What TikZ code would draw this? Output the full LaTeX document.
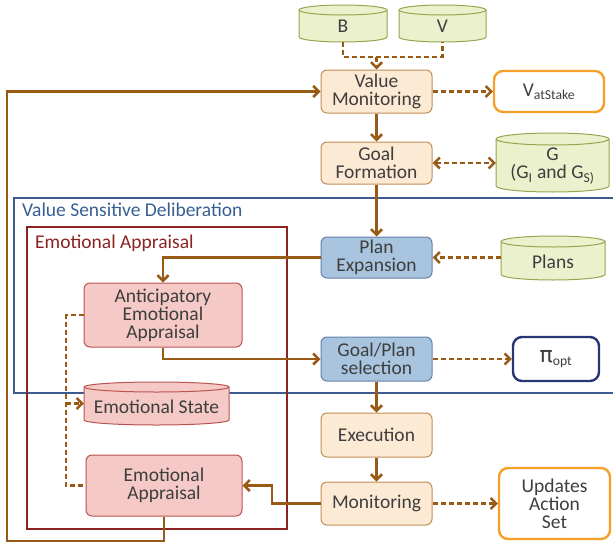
\documentclass[tikz,border=0pt]{standalone}
\usepackage{fontspec}
\setmainfont{Carlito}
\newfontfamily\pifont{DejaVu Sans}
\usetikzlibrary{arrows.meta,calc}
\definecolor{arr}{RGB}{152,90,20}
\definecolor{txt}{RGB}{62,62,62}
\definecolor{ofill}{RGB}{253,234,212}
\definecolor{obord}{RGB}{192,142,86}
\definecolor{bfill}{RGB}{168,196,222}
\definecolor{bbord}{RGB}{100,130,170}
\definecolor{pfill}{RGB}{245,201,198}
\definecolor{pbord}{RGB}{185,85,80}
\definecolor{gfill}{RGB}{235,241,205}
\definecolor{gbord}{RGB}{150,165,80}
\definecolor{hord}{RGB}{247,160,40}
\definecolor{pibord}{RGB}{40,55,115}
\definecolor{eaframe}{RGB}{140,35,35}
\definecolor{vsdframe}{RGB}{60,90,140}
\definecolor{vsdtext}{RGB}{55,95,145}
\newcommand\boxfont{\fontsize{19.5}{18}\selectfont}
\newcommand\drum[8]{%
  \pgfmathsetmacro\drumrx{(#4-#2)/2}%
  \pgfmathsetmacro\drumta{#3+#6}%
  \pgfmathsetmacro\drumbb{#5-#6}%
  \pgfmathsetmacro\drumcx{(#2+#4)/2}%
  \pgfmathsetmacro\drumcy{(#3+#5)/2}%
  \pgfmathsetmacro\drumw{#4-#2}%
  \pgfmathsetmacro\drumh{#5-#3}%
  \path[#7] (#2,\drumta) -- (#2,\drumbb)
    arc[start angle=180,end angle=360,x radius=\drumrx pt,y radius=#6 pt]
    -- (#4,\drumta)
    arc[start angle=0,end angle=180,x radius=\drumrx pt,y radius=#6 pt] -- cycle;
  \path[#7,fill=none] (#2,\drumta)
    arc[start angle=180,end angle=360,x radius=\drumrx pt,y radius=#6 pt];
  \node[inner sep=0pt,minimum width=\drumw pt,minimum height=\drumh pt] (#1) at (\drumcx,\drumcy) {};
  \node[cyltext] (#1t) at ($(#1.center)+(0,0.6*#6)$) {#8};
}
\begin{document}
\begin{tikzpicture}[x=1pt,y=-1pt,
  box/.style={rounded corners=6pt, line width=1pt, minimum width=111pt, align=center, inner sep=1pt, text=txt, font=\boxfont},
  obox/.style={box, fill=ofill, draw=obord},
  bbox/.style={box, fill=bfill, draw=bbord},
  pbox/.style={box, fill=pfill, draw=pbord},
  hbox/.style={box, fill=white, draw=hord, line width=2.4pt, rounded corners=9pt},
  cyltext/.style={align=center, inner sep=0pt, text=txt, font=\boxfont},
  gcyl/.style={fill=gfill, draw=gbord, line width=1pt},
  pcyl/.style={fill=pfill, draw=pbord, line width=1pt},
  tip/.tip={Straight Barb[length=5.5pt,width=11pt]},
  conn/.style={draw=arr, line width=2.5pt, -tip},
  dline/.style={draw=arr, line width=2.5pt, dash pattern=on 5pt off 3pt},
  darrow/.style={dline, -tip},
  frame/.style={line width=2.4pt}
]
\useasboundingbox (0,0) rectangle (613,546);

% frames
\draw[frame, draw=vsdframe] (614,198) -- (14,198) -- (14,393) -- (614,393);
\node[anchor=base west, inner sep=0pt, text=vsdtext, font=\boxfont] (vsdl) at (22,216) {Value Sensitive Deliberation};
\draw[frame, draw=eaframe] (27,227) rectangle (287,529);
\node[anchor=base west, inner sep=0pt, text=eaframe, font=\boxfont] (eal) at (35,248) {Emotional Appraisal};

% cylinders
\drum{B}{299}{5}{387}{42}{5}{gcyl}{B}
\drum{V}{399}{5}{486}{42}{5}{gcyl}{V}
\drum{G}{496}{133}{609}{192}{6}{gcyl}{G\\(G\textsubscript{I} and G\textsubscript{S)}}
\drum{P}{501}{236}{605}{280}{5.5}{gcyl}{Plans}
\drum{ES}{84}{382}{229}{425}{5}{pcyl}{Emotional State}

% process nodes
\node[obox, minimum height=43pt] (VM) at (376.5,91.5) {Value\\Monitoring};
\node[obox, minimum height=42pt] (GF) at (376.5,163) {Goal\\Formation};
\node[bbox, minimum height=41pt] (PE) at (376.5,257.5) {Plan\\Expansion};
\node[bbox, minimum height=44pt] (GPS) at (376.5,359) {Goal/Plan\\selection};
\node[obox, minimum height=44pt] (EX) at (376.5,435) {Execution};
\node[obox, minimum height=43pt] (MON) at (376.5,503.5) {Monitoring};
\node[hbox, minimum width=110pt, minimum height=41pt] (VaS) at (549,91.5) {V\textsubscript{atStake}};
\node[hbox, draw=pibord, minimum width=86pt, minimum height=44pt] (PI) at (556,359) {{\pifont\fontsize{22}{22}\selectfont π}\textsubscript{opt}};
\node[hbox, minimum width=111pt, minimum height=71pt] (UAS) at (554.5,503.5) {Updates\\Action\\Set};
\node[pbox, minimum width=158pt, minimum height=64pt] (AEA) at (163,315) {Anticipatory\\Emotional\\Appraisal};
\node[pbox, minimum width=156pt, minimum height=61pt] (EA) at (164,485.5) {Emotional\\Appraisal};

% coordinates
\coordinate (bv) at (376.5,57);
\coordinate (d1) at (66,315);
\coordinate (d2) at (66,485.5);
\coordinate (mj) at (272,503.5);
\coordinate (lp) at (7,541);

% connectors
\draw[dline] (B.south) |- (bv) -| (V.south);
\draw[darrow] (bv) -- (VM.north);
\draw[darrow] (VM.east) -- (VaS.west);
\draw[conn] (VM.south) -- (GF.north);
\draw[dline, tip-tip] (GF.east) -- (GF.east -| G.west);
\draw[conn] (GF.south) -- (PE.north);
\draw[darrow] (P.west |- PE.east) -- (PE.east);
\draw[conn] (PE.west) -| (AEA.north);
\draw[conn] (AEA.south) |- (GPS.west);
\draw[darrow] (GPS.east) -- (PI.west);
\draw[conn] (GPS.south) -- (EX.north);
\draw[conn] (EX.south) -- (MON.north);
\draw[darrow] (MON.east) -- (UAS.west);
\draw[conn] (MON.west) -- (mj) |- (EA.east);
\draw[dline] (AEA.west) -- (d1) -- (d2) -- (EA.west);
\draw[darrow] (d1 |- ES.west) -- (ES.west);
\draw[conn] (EA.south) |- (lp) |- (VM.west);
\end{tikzpicture}
\end{document}
